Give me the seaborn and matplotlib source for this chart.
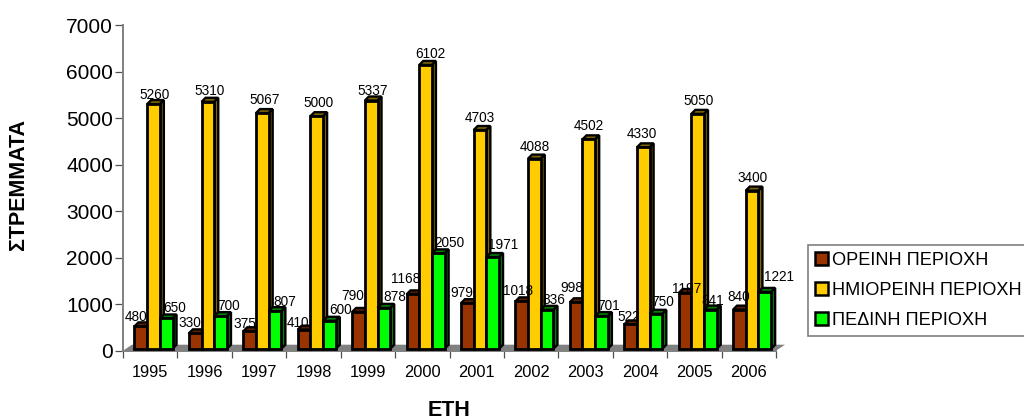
import pandas as pd
import seaborn as sns
import matplotlib
matplotlib.use("Agg")
import matplotlib.pyplot as plt
from matplotlib.patches import Polygon

# chart values
years = ['1995', '1996', '1997', '1998', '1999', '2000', '2001', '2002', '2003', '2004', '2005', '2006']
mountain = [480, 330, 375, 410, 790, 1168, 979, 1018, 998, 522, 1197, 840]
semi_mountain = [5260, 5310, 5067, 5000, 5337, 6102, 4703, 4088, 4502, 4330, 5050, 3400]
plain = [650, 700, 807, 600, 878, 2050, 1971, 836, 701, 750, 841, 1221]
series_names = ['ΟΡΕΙΝΗ ΠΕΡΙΟΧΗ', 'ΗΜΙΟΡΕΙΝΗ ΠΕΡΙΟΧΗ', 'ΠΕΔΙΝΗ ΠΕΡΙΟΧΗ']

# label nudges in pixels, excel scattered them around
label_dx = [
    [-5, -5, -5, -6, -6, -7, -5, -4, -4, -2, 2, -1],
    [1.5, 2, 2, 2, 1, 5, 0, 0, 0, -1, 1, 0],
    [8, 8, 10, 11, 11, 11, 10, 7, 7, 7, 2, 14],
]
label_dy = [
    [11, 12, 9, 9, 18, 17, 12, 12, 16, 9, 6, 15],
    [11, 13, 15, 15, 12, 13, 14, 14, 15, 15, 15, 15],
    [12, 12, 11, 13, 13, 12, 14, 12, 12, 14, 11, 17],
]

front = ['#993300', '#FFCC00', '#00FF00']
side = ['#5C1F00', '#806600', '#008000']

sns.set_style('white')
plt.rcParams['font.family'] = ['Liberation Sans', 'DejaVu Sans']
plt.rcParams['text.color'] = 'black'
plt.rcParams['xtick.labelcolor'] = 'black'
plt.rcParams['ytick.labelcolor'] = 'black'

df = pd.DataFrame({
    'year': years * 3,
    'area': [n for n in series_names for _ in years],
    'value': mountain + semi_mountain + plain,
})

fig = plt.figure(figsize=(10.24, 4.19), dpi=100)
ax = fig.add_axes([123 / 1024, 1 - 350.7 / 419, (776 - 123) / 1024, (350.7 - 25.2) / 419])

sns.barplot(data=df, x='year', y='value', hue='area', hue_order=series_names, palette=front,
            width=0.7, saturation=1, edgecolor='black', linewidth=2, ax=ax)

ax.set_xlim(-0.5, 11.5)
ax.set_ylim(0, 7000)

# pixels to data units
px_x = 12 / (776 - 123)
px_y = 7000 / (350.7 - 25.2)
depth_x, depth_y = 4 * px_x, 4 * px_y

# floor of the fake 3d box
ax.add_patch(Polygon([(-0.5, 0), (-0.5 + 9 * px_x, 6 * px_y), (11.5 + 9 * px_x, 6 * px_y), (11.5, 0)],
                     closed=True, facecolor='#808080', edgecolor='none', clip_on=False, zorder=1))

for s, bars in enumerate(ax.containers):
    for i, bar in enumerate(bars):
        bar.set_x(bar.get_x() + 3.3 * px_x)
        bar.set_y(2 * px_y)
        bar.set_zorder(3 + s * 2 + 0.5)
        x0, w, h = bar.get_x(), bar.get_width(), bar.get_height()
        y0 = bar.get_y()
        x1, y1 = x0 + w, y0 + h
        # top and side faces
        ax.add_patch(Polygon([(x0, y1), (x0 + depth_x, y1 + depth_y), (x1 + depth_x, y1 + depth_y), (x1, y1)],
                             closed=True, facecolor=side[s], edgecolor='black', linewidth=1.7,
                             clip_on=False, zorder=3 + s * 2))
        ax.add_patch(Polygon([(x1, y0), (x1 + depth_x, y0 + depth_y), (x1 + depth_x, y1 + depth_y), (x1, y1)],
                             closed=True, facecolor=side[s], edgecolor='black', linewidth=1.7,
                             clip_on=False, zorder=3 + s * 2))
        ax.annotate(f'{h:.0f}', (x0 + w / 2, h), xytext=(label_dx[s][i], label_dy[s][i]),
                    textcoords='offset pixels', ha='center', va='center', fontsize=9.8,
                    color='black', zorder=12, annotation_clip=False)

# axes look
for name in ['top', 'right']:
    ax.spines[name].set_visible(False)
for name in ['left', 'bottom']:
    ax.spines[name].set_color('#808080')
    ax.spines[name].set_linewidth(1.4)
    ax.spines[name].set_zorder(2)

ax.set_yticks(range(0, 7001, 1000))
ax.tick_params(axis='y', length=5.8, width=0.9, color='#505050', labelsize=15, pad=1.4, left=True)
ax.set_xticks([i - 0.5 for i in range(13)], minor=True)
ax.tick_params(axis='x', which='minor', length=5, width=0.9, color='#505050', bottom=True)
ax.tick_params(axis='x', which='major', length=0, labelsize=11.8, pad=10)

ax.set_xlabel('')
ax.set_ylabel('')
fig.text(449 / 1024, 1 - 410 / 419, 'ΕΤΗ', fontsize=15.5, fontweight='bold', ha='center', va='center')
fig.text(18.5 / 1024, 1 - 184 / 419, 'ΣΤΡΕΜΜΑΤΑ', fontsize=15.5, fontweight='bold', rotation=90, ha='center', va='center')

# legend runs off the right edge like the original
handles, labels = ax.get_legend_handles_labels()
leg = ax.legend(handles=handles, labels=labels, loc='upper left', bbox_to_anchor=(808 / 1024, 1 - 245 / 419),
                bbox_transform=fig.transFigure, fontsize=13.1, frameon=True, fancybox=False, framealpha=1,
                edgecolor='#808080', handlelength=0.72, handleheight=0.72, handletextpad=0.22,
                labelspacing=0.70, borderpad=0.39, borderaxespad=0)
leg.get_frame().set_linewidth(1.2)
leg.set_title(None)
for h in leg.get_patches():
    h.set_edgecolor('black')
    h.set_linewidth(1.8)

fig.savefig('out.png', dpi=100)
